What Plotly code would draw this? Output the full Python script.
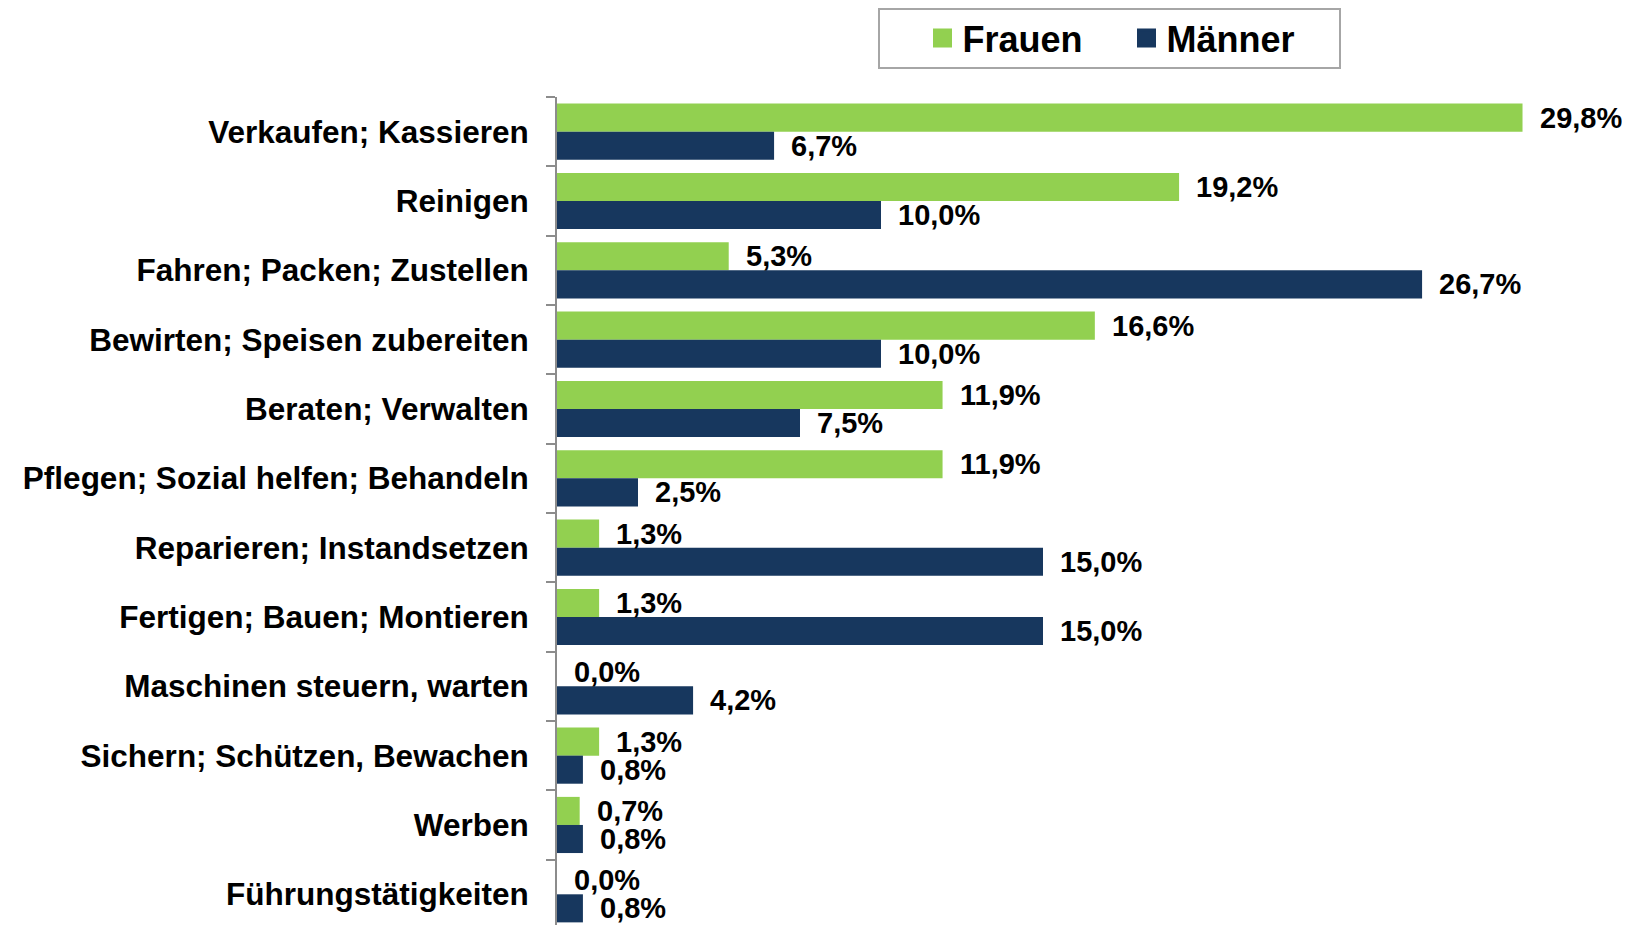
import plotly.graph_objects as go

categories = [
    "Verkaufen; Kassieren",
    "Reinigen",
    "Fahren; Packen; Zustellen",
    "Bewirten; Speisen zubereiten",
    "Beraten; Verwalten",
    "Pflegen; Sozial helfen; Behandeln",
    "Reparieren; Instandsetzen",
    "Fertigen; Bauen; Montieren",
    "Maschinen steuern, warten",
    "Sichern; Schützen, Bewachen",
    "Werben",
    "Führungstätigkeiten",
]
frauen = [29.8, 19.2, 5.3, 16.6, 11.9, 11.9, 1.3, 1.3, 0.0, 1.3, 0.7, 0.0]
maenner = [6.7, 10.0, 26.7, 10.0, 7.5, 2.5, 15.0, 15.0, 4.2, 0.8, 0.8, 0.8]
series_names = ["Frauen", "Männer"]

GREEN = "#92D050"
NAVY = "#17375E"
FONT = "Liberation Sans"

# page body has an 8px default margin: compensate
OFF = 8
W, H = 1630 - OFF, 925 - OFF
ML, MR, MT, MB = 557 - OFF, 22, 97 - OFF, 0
PX_PER_UNIT = 32.4
plot_w = W - ML - MR
plot_h = H - MT - MB
band = 69.33

fig = go.Figure()
for name, vals, col in [(series_names[0], frauen, GREEN), (series_names[1], maenner, NAVY)]:
    fig.add_trace(go.Bar(
        name=name, y=categories, x=vals, orientation="h",
        marker=dict(color=col, line=dict(width=0)),
        showlegend=False, hoverinfo="skip",
    ))
    fig.add_trace(go.Scatter(
        name=name, x=[None], y=[None], mode="markers",
        marker=dict(symbol="square", size=16, color=col, line=dict(color=col, width=3)),
        showlegend=True,
    ))

def fmt(v):
    return f"{v:.1f}".replace(".", ",") + "%"

annotations = []
for vals, ys in [(frauen, 14), (maenner, -14)]:
    for c, v in zip(categories, vals):
        annotations.append(dict(
            x=v, y=c, xref="x", yref="y", text=fmt(v), showarrow=False,
            xanchor="left", yanchor="middle", xshift=15, yshift=ys,
            font=dict(family=FONT, size=29, color="black", weight="bold"),
        ))

def px_x(px):
    return (px - OFF - ML) / plot_w

def px_y(py):
    return (H - MB - (py - OFF)) / plot_h

fig.update_layout(
    width=W, height=H,
    margin=dict(l=ML, r=MR, t=MT, b=MB, pad=0),
    paper_bgcolor="white", plot_bgcolor="white",
    barmode="group", bargap=0.19, bargroupgap=0,
    annotations=annotations,
    showlegend=True,
    legend=dict(
        orientation="h", x=px_x(922.5), xanchor="left", y=px_y(38), yanchor="middle",
        font=dict(family=FONT, size=36, color="black", weight="bold"),
        bgcolor="rgba(0,0,0,0)", borderwidth=0, itemwidth=30,
        entrywidth=159, entrywidthmode="pixels",
        traceorder="normal",
    ),
    shapes=[dict(
        type="rect", xref="paper", yref="paper",
        x0=px_x(879), x1=px_x(1340), y0=px_y(68), y1=px_y(9),
        line=dict(color="#A6A6A6", width=2), fillcolor="rgba(0,0,0,0)",
    )],
    xaxis=dict(
        range=[0, plot_w / PX_PER_UNIT], visible=False, fixedrange=True,
    ),
    yaxis=dict(
        categoryorder="array", categoryarray=categories,
        range=[-0.5 + plot_h / band, -0.5],
        showline=True, linecolor="#8C8C8C", linewidth=2,
        ticks="outside", ticklen=9, tickcolor="#8C8C8C", tickwidth=2,
        tickson="boundaries", showgrid=False, zeroline=False,
        tickfont=dict(family=FONT, size=31.5, color="black", weight="bold"),
        ticklabelstandoff=20,
    ),
)

fig.write_html("out.html")
